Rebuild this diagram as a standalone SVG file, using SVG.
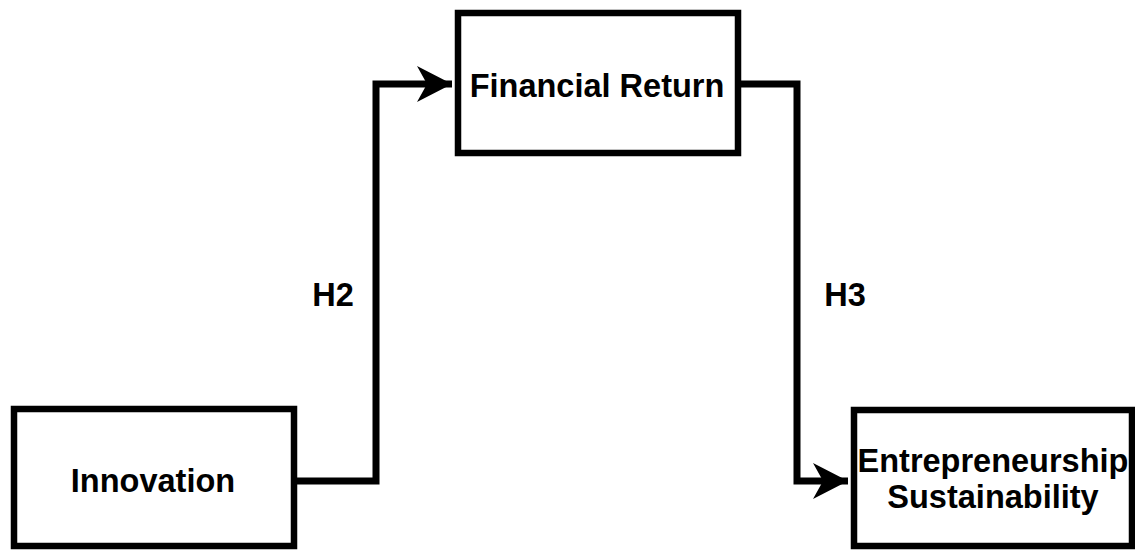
<svg xmlns="http://www.w3.org/2000/svg" width="1135" height="550" viewBox="0 0 1135 550">
<style>
.box{fill:#fff;stroke:#000;stroke-width:6.5}
.edge{fill:none;stroke:#000;stroke-width:7;stroke-linejoin:miter}
.t{font-family:"Liberation Sans",Arial,sans-serif;font-weight:bold;font-size:32.5px;fill:#000;text-anchor:middle}
</style>
<defs>
<marker id="arr" markerUnits="userSpaceOnUse" markerWidth="40" markerHeight="40" refX="35" refY="18" orient="auto" viewBox="0 0 40 36">
<path d="M0,0 L35,18 L0,36 L10,18 Z" fill="#000"/>
</marker>
</defs>
<rect width="1135" height="550" fill="#fff"/>
<g id="connectors">
<path class="edge" d="M297,481 H376 V84 H452" marker-end="url(#arr)"/>
<path class="edge" d="M741,84 H797 V481 H848" marker-end="url(#arr)"/>
<text class="t" x="333" y="306">H2</text>
<text class="t" x="845" y="306">H3</text>
</g>
<g id="financial-return">
<rect class="box" x="458" y="13" width="280" height="140"/>
<text class="t" x="597" y="97">Financial Return</text>
</g>
<g id="innovation">
<rect class="box" x="14" y="409" width="280" height="137"/>
<text class="t" x="153" y="492">Innovation</text>
</g>
<g id="entrepreneurship-sustainability">
<rect class="box" x="854" y="410" width="278" height="136"/>
<text class="t" x="993" y="472">Entrepreneurship</text>
<text class="t" x="993" y="508">Sustainability</text>
</g>
</svg>
